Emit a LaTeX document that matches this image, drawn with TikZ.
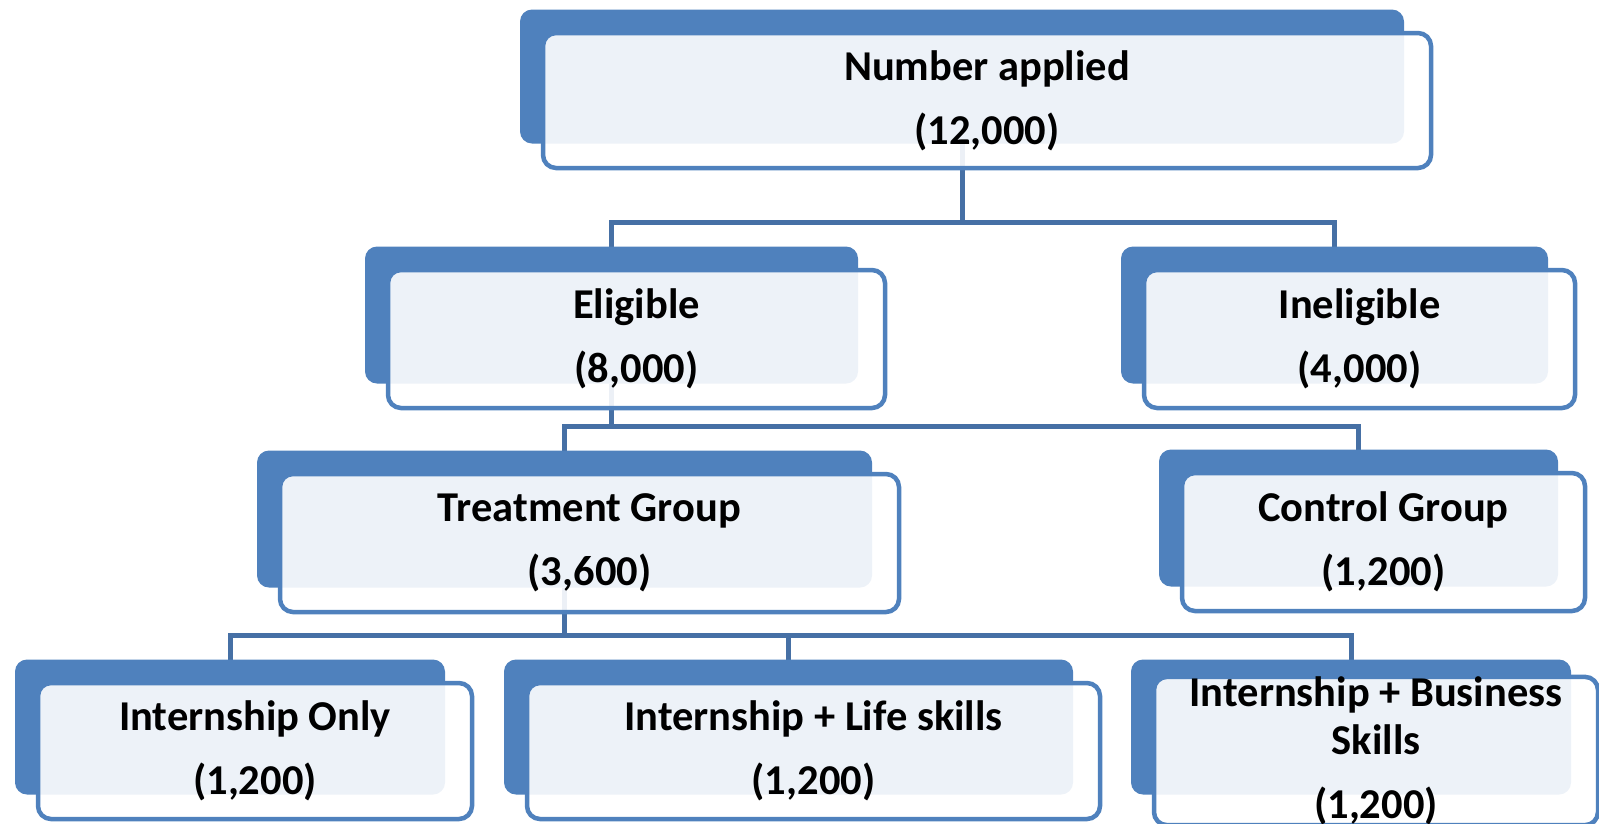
\documentclass[tikz,border=0pt]{standalone}
\usepackage{fontspec}
\setmainfont{Carlito}
\usepackage{xcolor}
\definecolor{boxblue}{RGB}{79,129,189}
\definecolor{linkblue}{RGB}{70,112,165}
\pgfdeclarelayer{lines}
\pgfdeclarelayer{back}
\pgfsetlayers{lines,back,main}

\begin{document}
\begin{tikzpicture}[x=1pt,y=-1pt,
  stepbox/.style={draw=boxblue, line width=4.5pt, rounded corners=13pt, fill=white, fill opacity=0.9, text opacity=1, align=center, inner sep=0pt, font=\fontsize{42.5}{48}\selectfont\bfseries},
  backbox/.style={fill=boxblue, rounded corners=12pt, inner sep=0pt, outer sep=0pt},
  link/.style={draw=linkblue, line width=5pt}]
\useasboundingbox (0,0) rectangle (1599,823);

% boxes: name/x/y/width/height/text
\foreach \n/\x/\y/\w/\h/\t in {
  num/987/100.5/892/139/{Number applied\\[16pt](12,000)},
  elig/636.5/339/501/142/{Eligible\\[16pt](8,000)},
  inel/1359.5/339/435/142/{Ineligible\\[16pt](4,000)},
  treat/589.5/543/623/142/{Treatment Group\\[16pt](3,600)},
  ctrl/1383.5/542/407/142/{Control Group\\[16pt](1,200)},
  only/255/751/438/140/{Internship Only\\[16pt](1,200)},
  life/813.5/751/577/140/{Internship + Life skills\\[16pt](1,200)},
  bus/1376/751/448/140/{Internship + Business\\Skills\\[16pt](1,200)}}{
  \node[stepbox, minimum width=\w-4, minimum height=\h-4] (\n) at (\x,\y) {\t};
  \begin{pgfonlayer}{back}
    \node[backbox, minimum width=\w-8, minimum height=\h-5] (\n-b) at ([shift={(-25pt,24pt)}]\n.center) {};
  \end{pgfonlayer}
}

\begin{pgfonlayer}{lines}
\draw[link] (num-b) |- ([yshift=24pt]elig-b.north);
\draw[link] (elig-b.north) -- ++(0,-24) -| (inel-b.north);
\draw[link] (elig-b) |- ([yshift=24pt]treat-b.north);
\draw[link] (treat-b.north) -- ++(0,-24) -| (ctrl-b.north);
\draw[link] (treat-b) |- ([yshift=24pt]only-b.north);
\draw[link] (only-b.north) -- ++(0,-24) -| (bus-b.north);
\draw[link] (life-b.north) -- ++(0,-24);
\end{pgfonlayer}
\end{tikzpicture}
\end{document}
